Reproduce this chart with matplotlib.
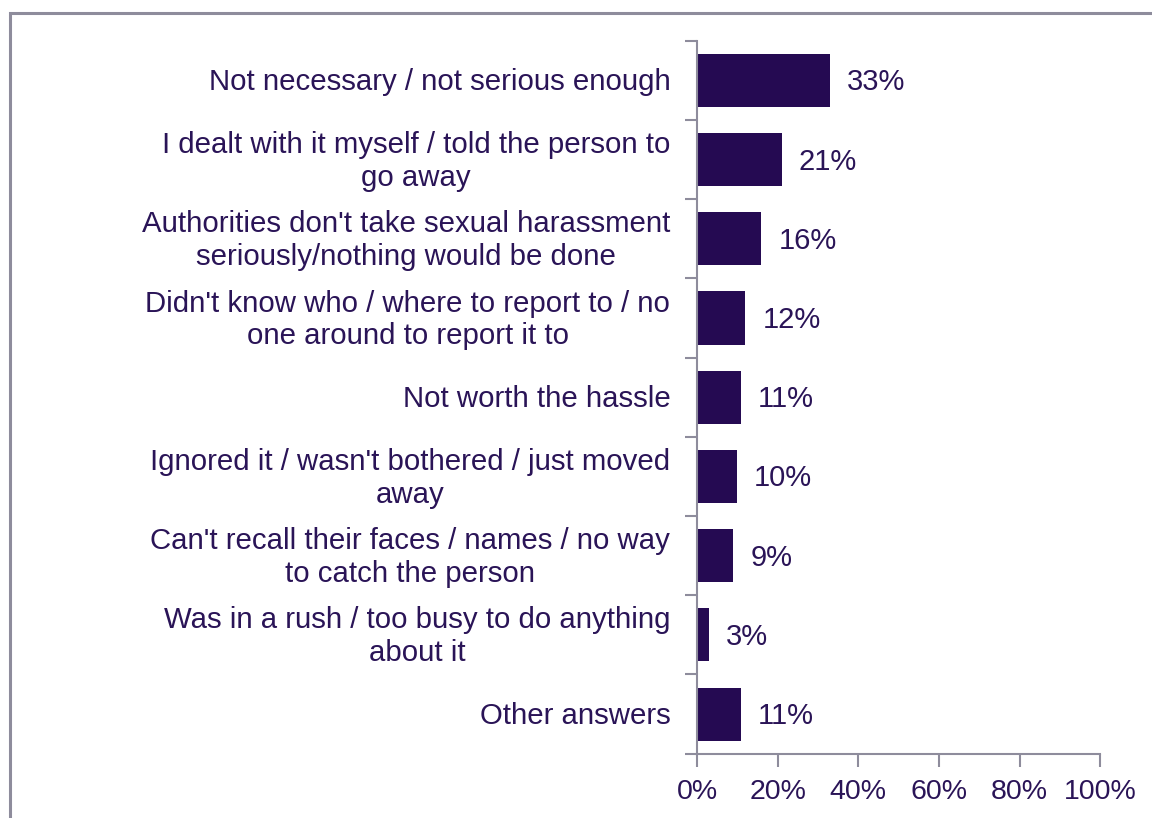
import matplotlib
matplotlib.use('Agg')
import matplotlib.pyplot as plt
from matplotlib.patches import Rectangle

categories = [
    'Not necessary / not serious enough',
    'I dealt with it myself / told the person to\ngo away',
    "Authorities don't take sexual harassment\nseriously/nothing would be done",
    "Didn't know who / where to report to / no\none around to report it to",
    'Not worth the hassle',
    "Ignored it / wasn't bothered / just moved\naway",
    "Can't recall their faces / names / no way\nto catch the person",
    'Was in a rush / too busy to do anything\nabout it',
    'Other answers',
]
values = [33, 21, 16, 12, 11, 10, 9, 3, 11]
xticks = [0, 20, 40, 60, 80, 100]

bar_color = '#250a52'
text_color = '#2a1457'
axis_color = '#8e8c9c'

plt.rcParams['font.family'] = ['Liberation Sans', 'DejaVu Sans']

fig = plt.figure(figsize=(11.52, 8.18), dpi=100)
ax = fig.add_axes([0.605, 0.0786, 0.35, 0.8716])

# outer frame (only left and top edges fall inside the image)
fig.patches.append(Rectangle((10 / 1152, -0.1), 1.2, 1 - 13 / 818 + 0.1,
                             transform=fig.transFigure, fill=False,
                             edgecolor=axis_color, linewidth=2.2))

pos = list(range(len(categories)))
ax.barh(pos, values, height=0.67, color=bar_color)
ax.set_ylim(len(categories) - 0.5, -0.5)
ax.set_xlim(0, 100)

nudge = 0.025  # small downward shift so text sits on the bar centre
for p, v in zip(pos, values):
    ax.text(v + 4.2, p + nudge, f'{v}%', va='center', ha='left', fontsize=21, color=text_color)

ax.set_yticks([p + 0.5 for p in [-1] + pos])
ax.set_yticklabels([])
for p, c in zip(pos, categories):
    ax.text(-6.6, p + nudge, c, ha='right', va='center', multialignment='center',
            fontsize=21.2, color=text_color, linespacing=1.22)

ax.set_xticks(xticks)
ax.set_xticklabels([f'{t}%' for t in xticks], fontsize=20.5, color=text_color)
ax.tick_params(axis='both', length=9, width=1.5, color=axis_color)
ax.tick_params(axis='x', pad=9)

for side in ['top', 'right']:
    ax.spines[side].set_visible(False)
for side in ['left', 'bottom']:
    ax.spines[side].set_color(axis_color)
    ax.spines[side].set_linewidth(1.5)

fig.savefig('out.png', dpi=100)
